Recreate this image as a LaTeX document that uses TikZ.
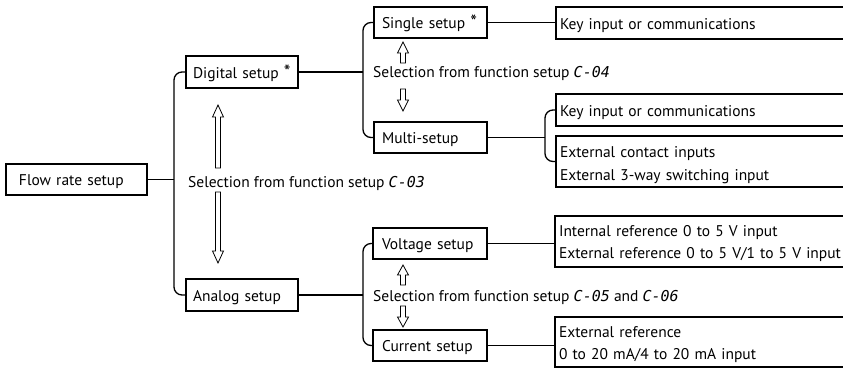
\documentclass[tikz,border=0pt]{standalone}
\usepackage{fontspec}
\setmainfont{PT Sans}
\newfontfamily\codefont{DejaVu Sans Mono}
\newcommand\code[1]{{\codefont\itshape\fontsize{15}{18}\selectfont #1}}
\newcommand\bigstar{{\fontsize{19}{22}\selectfont *}}
\newcommand\topstrut{\rule{0pt}{16pt}}
\begin{document}
\begin{tikzpicture}[x=1pt,y=-1pt,
  boxbase/.style={draw, line width=1.3pt, inner ysep=0pt, outer sep=0pt, anchor=north west,
    align=left, font=\fontsize{15.5}{22}\selectfont},
  box/.style={boxbase, text height=15pt, text depth=3pt},
  twobox/.style={boxbase},
  conn/.style={line width=1.3pt},
  bracket/.style={line width=1.3pt, rounded corners=8pt},
  sel/.style={inner sep=0pt, anchor=base west, font=\fontsize{15.5}{22}\selectfont},
  hollow/.style={draw, line width=0.8pt, fill=white, line join=miter}]
\useasboundingbox (0,0) rectangle (843,368);
\newcommand\upArrow[4]{\draw[hollow] (#1-2.5,#3) -- (#1-2.5,#2+#4) -- (#1-5.5,#2+#4) -- (#1,#2) -- (#1+5.5,#2+#4) -- (#1+2.5,#2+#4) -- (#1+2.5,#3) -- cycle;}
\newcommand\dnArrow[4]{\draw[hollow] (#1-2.5,#2) -- (#1-2.5,#3-#4) -- (#1-5.5,#3-#4) -- (#1,#3) -- (#1+5.5,#3-#4) -- (#1+2.5,#3-#4) -- (#1+2.5,#2) -- cycle;}

% left column
\node[box, minimum width=141pt, minimum height=31pt, inner xsep=13pt, text width=115pt] (flow) at (6,164) {Flow rate setup};
\node[box, minimum width=112pt, minimum height=32pt, inner xsep=7pt, text width=98pt] (digital) at (186,56) {Digital setup~\bigstar};
\node[box, minimum width=112pt, minimum height=32pt, inner xsep=7pt, text width=98pt] (analog) at (186,279) {Analog setup};

% middle column
\node[box, minimum width=113pt, minimum height=31pt, inner xsep=8pt, text width=97pt] (single) at (374,7) {Single setup~\bigstar};
\node[box, minimum width=113pt, minimum height=31pt, inner xsep=8pt, text width=97pt] (multi) at (374,122) {Multi-setup};
\node[box, minimum width=114pt, minimum height=31pt, inner xsep=9pt, text width=96pt] (voltage) at (373,228) {Voltage setup};
\node[box, minimum width=114pt, minimum height=31pt, inner xsep=9pt, text width=96pt] (current) at (373,330) {Current setup};

% right column (open to the right edge)
\node[box, minimum width=295pt, minimum height=32pt, inner xsep=4pt, text width=287pt] (k1) at (556,7) {Key input or communications};
\node[box, minimum width=295pt, minimum height=32pt, inner xsep=4pt, text width=287pt] (k2) at (556,94) {Key input or communications};
\node[twobox, minimum width=295pt, minimum height=51pt, inner xsep=4pt, text width=287pt] (ext) at (556,136) {\rule{0pt}{18pt}External contact inputs\\[1.5pt]External 3-way switching input};
\node[twobox, minimum width=296pt, minimum height=51pt, inner xsep=4pt, text width=288pt] (vin) at (555,216) {\topstrut Internal reference 0 to 5 V input\\External reference 0 to 5 V/1 to 5 V input};
\node[twobox, minimum width=296pt, minimum height=50pt, inner xsep=4pt, text width=288pt] (cin) at (555,317) {\topstrut External reference\\0 to 20 mA/4 to 20 mA input};

% selection texts
\node[sel] (s1) at (188,187) {Selection from function setup \code{C-03}};
\node[sel] (s2) at (373,77.5) {Selection from function setup \code{C-04}};
\node[sel] (s3) at (373,301.5) {Selection from function setup \code{C-05} and \code{C-06}};

% brackets and connectors
\coordinate (b1) at (174,179.5);
\coordinate (b2) at (363,72);
\coordinate (b3) at (545,137.5);
\coordinate (b4) at (363,295);
\draw[conn] (flow.east) -- (b1);
\draw[bracket] (digital.west) -| (b1) |- (analog.west);
\draw[conn] (digital.east) -- (b2);
\draw[bracket] (single.west) -| (b2) |- (multi.west);
\draw[conn] (analog.east) -- (b4);
\draw[bracket] (voltage.west) -| (b4) |- (current.west);
\draw[conn] (multi.east) -- (b3);
\draw[bracket] (k2.west) -| (b3) |- (ext.west);
\draw[conn] (single.east) -- (single.east -| k1.west);
\draw[conn] (voltage.east) -- (voltage.east -| vin.west);
\draw[conn] (current.east) -- (current.east -| cin.west);

% hollow arrows
\upArrow{218}{105}{168}{12}
\dnArrow{218}{192}{263}{12}
\upArrow{403}{42}{63}{11}
\dnArrow{403}{89}{111}{11}
\upArrow{403}{265}{285}{10}
\dnArrow{403}{306}{327}{10}
\end{tikzpicture}
\end{document}
